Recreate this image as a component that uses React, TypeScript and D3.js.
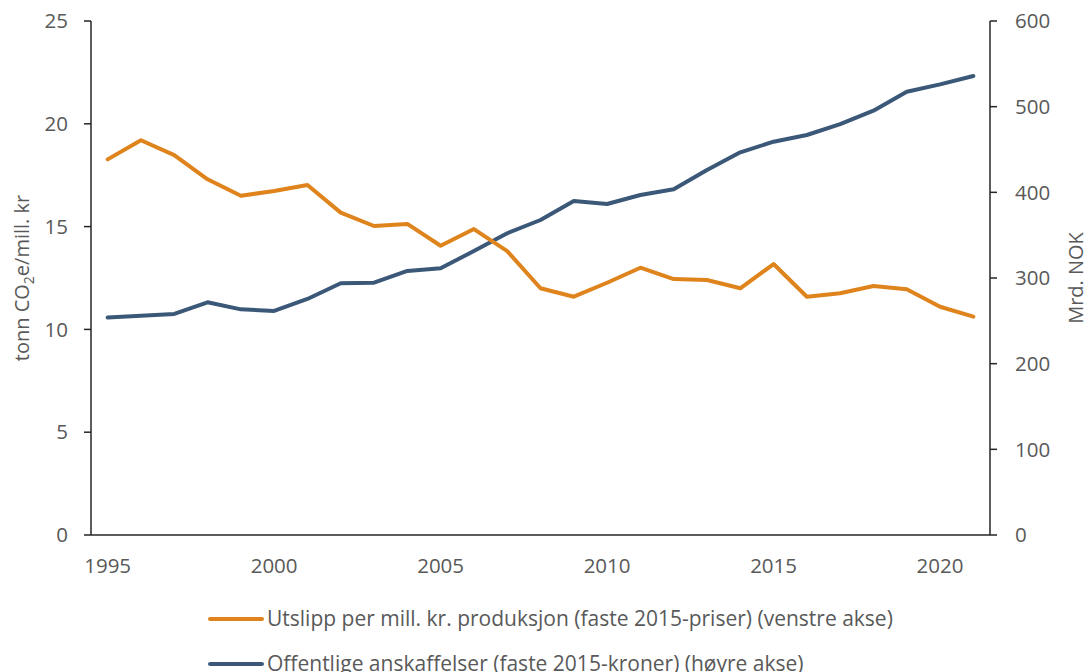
import React from "react";
import * as d3 from "d3";

const years = d3.range(1995, 2022);
const emissions = [18.27, 19.2, 18.48, 17.3, 16.5, 16.73, 17.02, 15.68, 15.03, 15.13, 14.07, 14.88, 13.81, 12.0, 11.59, 12.27, 13.0, 12.45, 12.4, 12.0, 13.18, 11.59, 11.76, 12.11, 11.95, 11.1, 10.62];
const procurement = [254, 256, 258, 271.6, 263.4, 261.5, 275.5, 293.8, 294.5, 308.2, 311.3, 331.5, 352.2, 367.7, 389.9, 386.4, 396.9, 403.5, 426, 446.7, 459.1, 466.9, 479.7, 495.3, 517.5, 526, 535.8];
const leftTicks = [0, 5, 10, 15, 20, 25];
const rightTicks = [0, 100, 200, 300, 400, 500, 600];
const xLabels = [1995, 2000, 2005, 2010, 2015, 2020];
const legendLabels = [
  "Utslipp per mill. kr. produksjon (faste 2015-priser) (venstre akse)",
  "Offentlige anskaffelser (faste 2015-kroner) (høyre akse)",
];
const colors = ["#DF841C", "#3B5878"];

export default function App() {
  const W = 1088, H = 672;
  const left = 91, right = 990, top = 21, bottom = 535;
  const x = d3.scaleBand<number>().domain(years).range([left, right]);
  const cx = (y: number) => (x(y) as number) + x.bandwidth() / 2;
  const yL = d3.scaleLinear().domain([0, 25]).range([bottom, top]);
  const yR = d3.scaleLinear().domain([0, 600]).range([bottom, top]);
  const lineL = d3.line<number>().x((_, i) => cx(years[i])).y((d) => yL(d));
  const lineR = d3.line<number>().x((_, i) => cx(years[i])).y((d) => yR(d));
  const font = "'Open Sans', sans-serif";
  const txt = "#595959";
  const axisC = "#262626";
  return (
    <svg width={W} height={H} style={{ position: "absolute", left: 0, top: 0, background: "#fff" }} fontFamily={font}>
      <line x1={left} x2={left} y1={top} y2={bottom} stroke={axisC} strokeWidth={1.5} />
      <line x1={right} x2={right} y1={top} y2={bottom} stroke={axisC} strokeWidth={1.5} />
      <line x1={left} x2={right} y1={bottom} y2={bottom} stroke={axisC} strokeWidth={1.5} />
      {leftTicks.map((t) => (
        <g key={"l" + t}>
          <line x1={left - 7} x2={left} y1={yL(t)} y2={yL(t)} stroke={axisC} strokeWidth={1.5} />
          <text x={68} y={yL(t)} dy="0.35em" textAnchor="end" fontSize={20.5} fill={txt}>{t}</text>
        </g>
      ))}
      {rightTicks.map((t) => (
        <g key={"r" + t}>
          <line x1={right} x2={right + 7} y1={yR(t)} y2={yR(t)} stroke={axisC} strokeWidth={1.5} />
          <text x={1015} y={yR(t)} dy="0.35em" textAnchor="start" fontSize={20.5} fill={txt}>{t}</text>
        </g>
      ))}
      {xLabels.map((t) => (
        <text key={"x" + t} x={cx(t)} y={566} dy="0.35em" textAnchor="middle" fontSize={20.5} fill={txt}>{t}</text>
      ))}
      <text transform={`translate(29,${(top + bottom) / 2}) rotate(-90)`} textAnchor="middle" fontSize={20} fill={txt}>
        tonn CO<tspan fontSize={14} dy={5}>2</tspan><tspan dy={-5}>e/mill. kr</tspan>
      </text>
      <text transform={`translate(1083,${(top + bottom) / 2}) rotate(-90)`} textAnchor="middle" fontSize={20} fill={txt}>Mrd. NOK</text>
      <path d={lineR(procurement) || ""} fill="none" stroke={colors[1]} strokeWidth={4} strokeLinejoin="round" strokeLinecap="round" />
      <path d={lineL(emissions) || ""} fill="none" stroke={colors[0]} strokeWidth={4} strokeLinejoin="round" strokeLinecap="round" />
      {legendLabels.map((l, i) => (
        <g key={l}>
          <line x1={210} x2={262} y1={619 + i * 45} y2={619 + i * 45} stroke={colors[i]} strokeWidth={4} strokeLinecap="round" />
          <text x={267} y={619 + i * 45} dy="0.35em" fontSize={21} fill={txt}>{l}</text>
        </g>
      ))}
    </svg>
  );
}
